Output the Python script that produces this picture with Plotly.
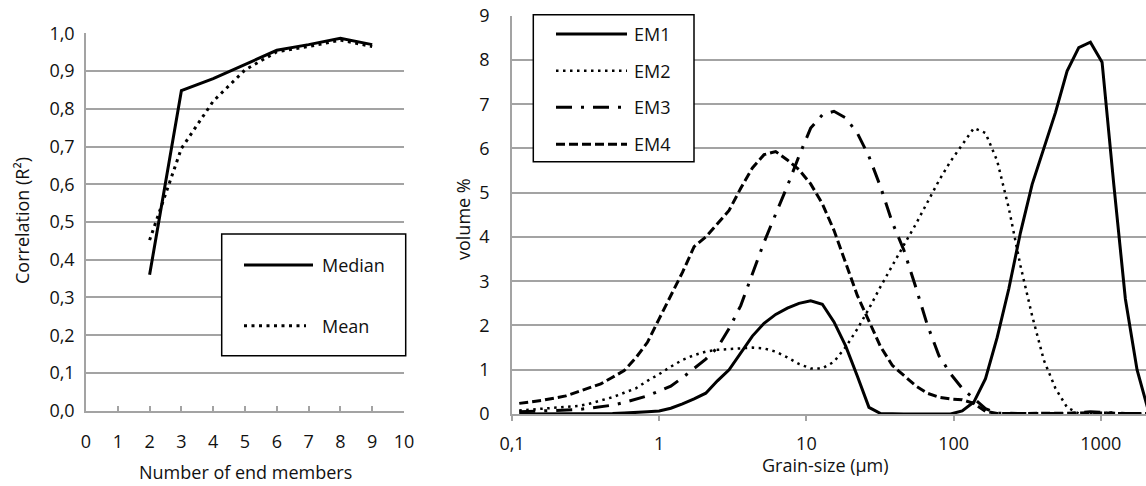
import plotly.graph_objects as go

# ---- Left panel: goodness of fit versus number of end members ----
end_members = [2, 3, 4, 5, 6, 7, 8, 9]
median_r2 = [0.36, 0.848, 0.880, 0.918, 0.955, 0.970, 0.987, 0.970]
mean_r2 = [0.452, 0.695, 0.820, 0.903, 0.951, 0.965, 0.982, 0.965]
r2_ticks = [0.0, 0.1, 0.2, 0.3, 0.4, 0.5, 0.6, 0.7, 0.8, 0.9, 1.0]
r2_ticktext = ["0,0", "0,1", "0,2", "0,3", "0,4", "0,5", "0,6", "0,7", "0,8", "0,9", "1,0"]
member_ticks = [0, 1, 2, 3, 4, 5, 6, 7, 8, 9, 10]

# ---- Right panel: end-member grain-size distributions ----
grain_size = [0.112, 0.134, 0.161, 0.194, 0.232, 0.279, 0.334, 0.401, 0.482, 0.578,
              0.694, 0.832, 0.999, 1.199, 1.439, 1.726, 2.072, 2.486, 2.983, 3.580,
              4.296, 5.155, 6.186, 7.424, 8.908, 10.69, 12.83, 15.39, 18.47, 22.17,
              26.60, 31.92, 38.31, 45.97, 55.16, 66.19, 79.43, 95.32, 114.4, 137.3,
              164.7, 197.7, 237.2, 284.6, 341.6, 409.9, 491.8, 590.2, 708.3, 849.9,
              1019.9, 1223.9, 1468.7, 1762.4, 2114.9]
em1 = [0.00, 0.00, 0.00, 0.00, 0.00, 0.00, 0.01, 0.01, 0.01, 0.02,
       0.03, 0.05, 0.07, 0.13, 0.23, 0.34, 0.47, 0.75, 1.00, 1.38,
       1.76, 2.05, 2.25, 2.39, 2.50, 2.56, 2.48, 2.08, 1.54, 0.86,
       0.15, 0.01, 0.00, 0.00, 0.00, 0.00, 0.00, 0.00, 0.07, 0.27,
       0.80, 1.73, 2.83, 4.10, 5.19, 5.98, 6.81, 7.75, 8.28, 8.40,
       7.95, 5.20, 2.60, 1.00, 0.05]
em2 = [0.08, 0.10, 0.12, 0.14, 0.16, 0.18, 0.23, 0.30, 0.38, 0.48,
       0.58, 0.75, 0.90, 1.07, 1.22, 1.33, 1.41, 1.45, 1.47, 1.48,
       1.50, 1.48, 1.41, 1.28, 1.13, 1.03, 1.03, 1.18, 1.51, 1.92,
       2.38, 2.88, 3.36, 3.82, 4.28, 4.78, 5.27, 5.71, 6.09, 6.46,
       6.35, 5.72, 4.65, 3.35, 2.22, 1.22, 0.58, 0.15, 0.01, 0.02,
       0.03, 0.02, 0.01, 0.01, 0.01]
em3 = [0.05, 0.06, 0.07, 0.08, 0.09, 0.10, 0.13, 0.16, 0.20, 0.26,
       0.33, 0.41, 0.52, 0.63, 0.82, 1.04, 1.24, 1.50, 1.93, 2.45,
       3.19, 3.88, 4.52, 5.15, 5.83, 6.46, 6.76, 6.84, 6.69, 6.35,
       5.82, 5.13, 4.33, 3.70, 2.88, 2.02, 1.32, 0.91, 0.58, 0.35,
       0.12, 0.02, 0.01, 0.01, 0.01, 0.01, 0.01, 0.01, 0.03, 0.05,
       0.04, 0.02, 0.01, 0.01, 0.01]
em4 = [0.24, 0.27, 0.31, 0.36, 0.41, 0.50, 0.59, 0.68, 0.83, 0.98,
       1.27, 1.62, 2.15, 2.67, 3.20, 3.78, 4.00, 4.30, 4.60, 5.10,
       5.56, 5.86, 5.93, 5.74, 5.52, 5.20, 4.75, 4.15, 3.42, 2.68,
       2.10, 1.52, 1.10, 0.86, 0.64, 0.47, 0.38, 0.34, 0.32, 0.24,
       0.06, 0.01, 0.01, 0.01, 0.01, 0.01, 0.01, 0.01, 0.02, 0.03,
       0.02, 0.01, 0.01, 0.01, 0.01]
size_ticks = [0.1, 1, 10, 100, 1000]
size_ticktext = ["0,1", "1", "10", "100", "1000"]
volume_ticks = [0, 1, 2, 3, 4, 5, 6, 7, 8, 9]

W, H = 1146, 486
FONT = "Open Sans"
TXT = "#111111"
GRID = "#a3a3a3"


def fx(px):
    return px / W


def fy(py):
    return 1 - py / H


styles = {
    "Median": dict(color="black", width=3, dash="solid"),
    "Mean": dict(color="black", width=3, dash="3px,4.5px"),
    "EM1": dict(color="black", width=3, dash="solid"),
    "EM2": dict(color="black", width=2.5, dash="2.5px,4.5px"),
    "EM3": dict(color="black", width=3, dash="16px,9px,3px,9px"),
    "EM4": dict(color="black", width=3, dash="9px,4px"),
}

fig = go.Figure()
fig.add_trace(go.Scatter(x=end_members, y=median_r2, mode="lines",
                         line=styles["Median"], xaxis="x", yaxis="y"))
fig.add_trace(go.Scatter(x=end_members, y=mean_r2, mode="lines",
                         line=styles["Mean"], xaxis="x", yaxis="y"))
for name, vals in (("EM4", em4), ("EM3", em3), ("EM2", em2), ("EM1", em1)):
    fig.add_trace(go.Scatter(x=grain_size, y=vals, mode="lines",
                             line=styles[name], xaxis="x2", yaxis="y2"))

tickfont = dict(family=FONT, size=18, color=TXT)
common = dict(zeroline=False, showline=True, linecolor=GRID, linewidth=1.5,
              tickfont=tickfont, automargin=False, gridcolor=GRID, gridwidth=1.5)
left_dom = [fx(86), fx(404)]

fig.update_layout(
    width=W, height=H,
    margin=dict(l=0, r=0, t=0, b=0, pad=0),
    paper_bgcolor="white", plot_bgcolor="white",
    showlegend=False,
    font=dict(family=FONT, size=18, color=TXT),
    xaxis=dict(domain=left_dom, range=[0, 10], tickvals=member_ticks,
               showgrid=False, ticks="", ticklabelstandoff=14, anchor="y",
               **common),
    # companion axis carrying the short inward tick marks of the left x axis
    xaxis3=dict(domain=left_dom, range=[0, 10], tickvals=member_ticks,
                overlaying="x", anchor="y", side="bottom", showgrid=False,
                zeroline=False, showline=False, showticklabels=False,
                ticks="inside", ticklen=5, tickcolor=GRID, tickwidth=1.5,
                automargin=False),
    yaxis=dict(domain=[fy(410.7), fy(33.3)], range=[0, 1], tickvals=r2_ticks,
               ticktext=r2_ticktext, showgrid=True, ticks="",
               ticklabelstandoff=6, anchor="x", **common),
    xaxis2=dict(domain=[fx(512), 1.0], type="log", range=[-1, 3.307],
                tickvals=size_ticks, ticktext=size_ticktext, showgrid=False,
                ticks="outside", ticklen=5, tickcolor=GRID, tickwidth=1.5,
                ticklabelstandoff=8, anchor="y2", **common),
    yaxis2=dict(domain=[fy(414), fy(15.7)], range=[0, 9], tickvals=volume_ticks,
                showgrid=True, ticks="", ticklabelstandoff=17, anchor="x2",
                **common),
)
# an invisible trace keeps the companion axis active
fig.add_trace(go.Scatter(x=[None], y=[None], xaxis="x3", yaxis="y",
                         hoverinfo="skip", showlegend=False))

shapes = []
annotations = []


def legend_box(x0, x1, y0, y1):
    shapes.append(dict(type="rect", xref="paper", yref="paper",
                       x0=fx(x0), x1=fx(x1), y0=fy(y1), y1=fy(y0),
                       line=dict(color="black", width=1.5),
                       fillcolor="white", layer="above"))


def legend_entry(name, lx0, lx1, tx, py):
    shapes.append(dict(type="line", xref="paper", yref="paper",
                       x0=fx(lx0), x1=fx(lx1), y0=fy(py), y1=fy(py),
                       line=styles[name], layer="above"))
    annotations.append(dict(text=name, xref="paper", yref="paper",
                            x=fx(tx), y=fy(py), xanchor="left",
                            yanchor="middle", showarrow=False,
                            font=dict(family=FONT, size=18, color=TXT)))


legend_box(221.7, 405.7, 234, 355.7)
legend_entry("Median", 244, 313, 320, 265)
legend_entry("Mean", 244, 306, 320, 325.7)

legend_box(533.3, 694, 14.7, 161.7)
for name, py in (("EM1", 34), ("EM2", 70.7), ("EM3", 107.3), ("EM4", 144.3)):
    legend_entry(name, 556, 627, 632, py)

# axis titles
titles = [
    ("Number of end members", 245, 472, 0),
    ("Correlation (R²)", 22, 221, -90),
    ("Grain-size (µm)", 825, 465, 0),
    ("volume %", 463, 219, -90),
]
for text, px, py, ang in titles:
    annotations.append(dict(text=text, xref="paper", yref="paper",
                            x=fx(px), y=fy(py), xanchor="center",
                            yanchor="middle", textangle=ang, showarrow=False,
                            font=dict(family=FONT, size=18, color=TXT)))

fig.update_layout(shapes=shapes, annotations=annotations)
fig.write_html("out.html")
